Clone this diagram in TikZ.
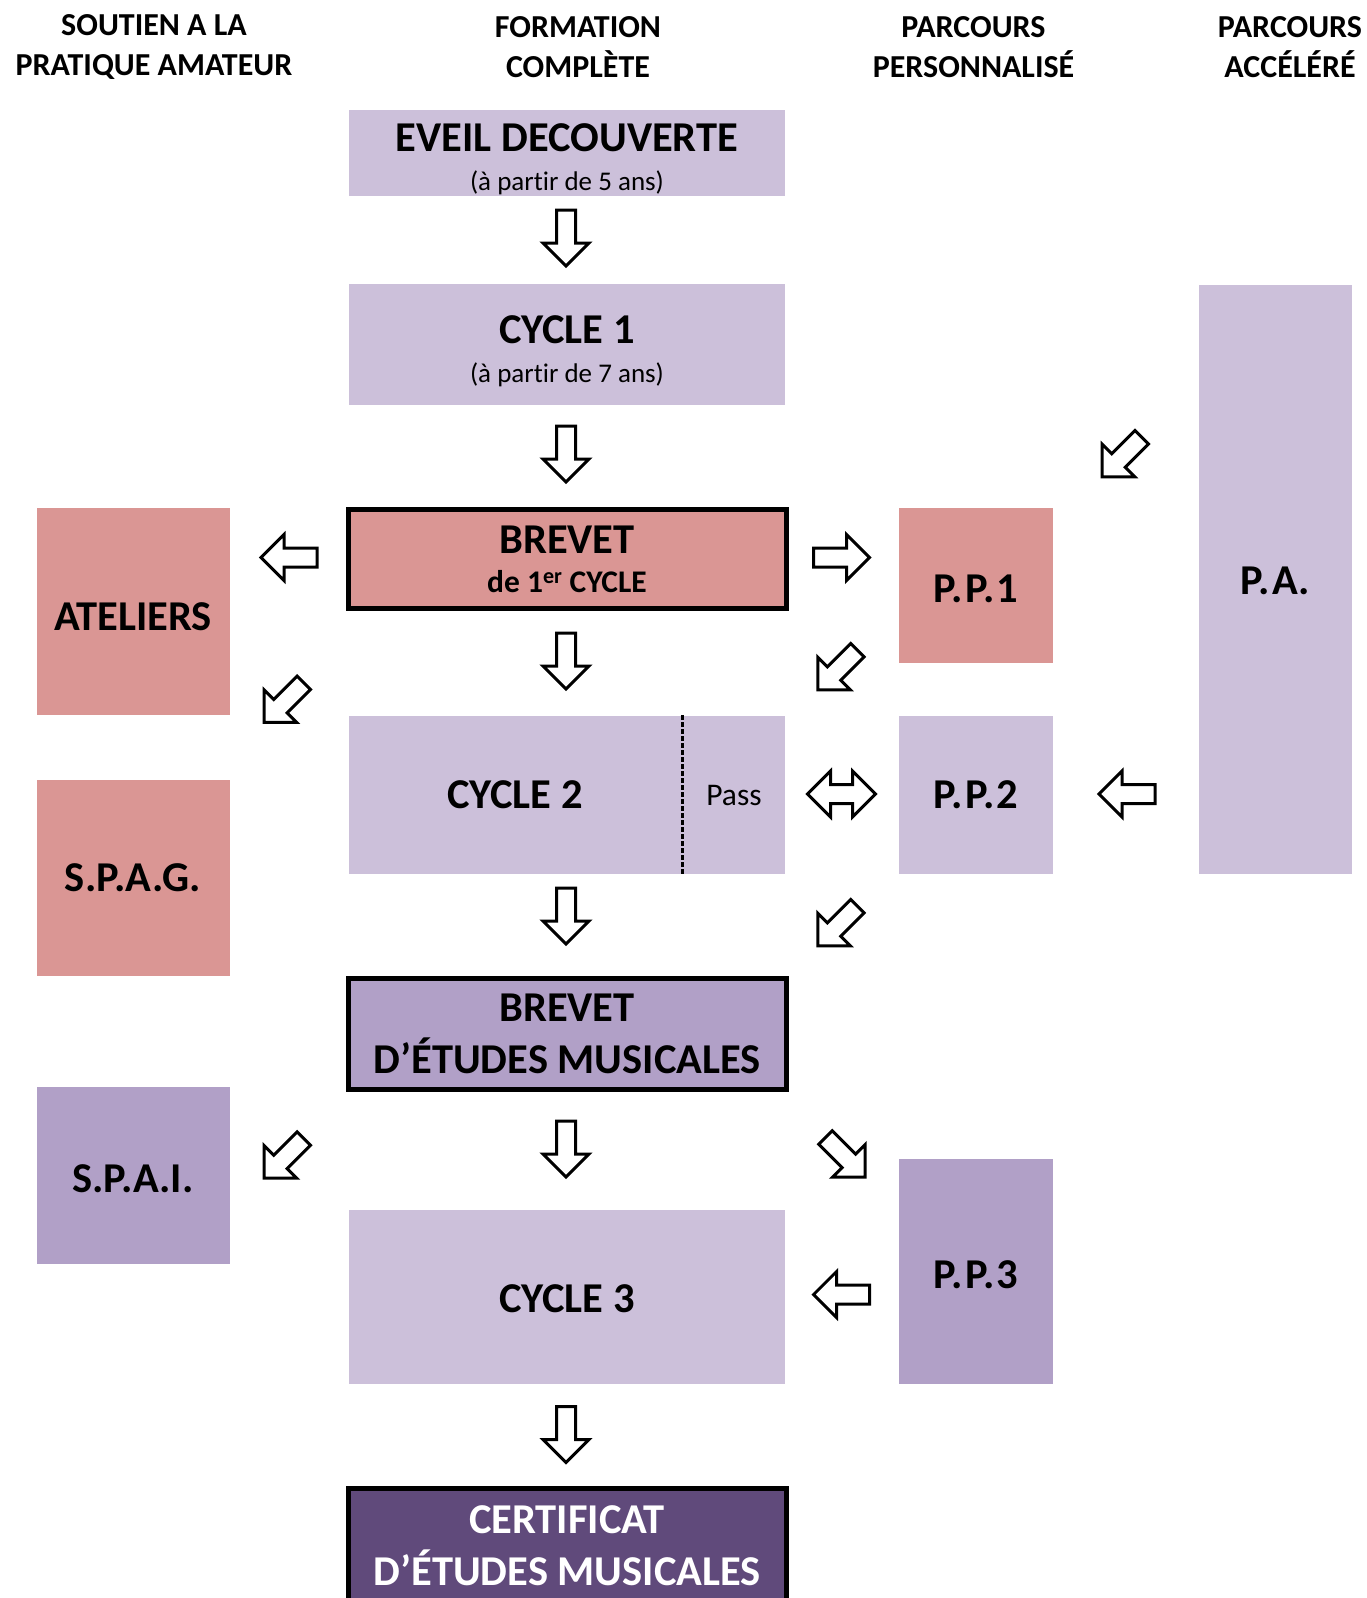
\documentclass[tikz,border=0pt]{standalone}
\usepackage{fontspec}
\setmainfont{Carlito}[Ligatures=NoCommon]
\usetikzlibrary{calc}
\usetikzlibrary{positioning}
\definecolor{lilac}{RGB}{204,192,218}
\definecolor{mauve}{RGB}{177,160,199}
\definecolor{rose}{RGB}{218,150,148}
\definecolor{plum}{RGB}{96,74,123}
\tikzset{box/.style={rectangle,inner sep=0pt,align=center,font=\bfseries\fontsize{42.5}{48}\selectfont},
lightbox/.style={box,fill=lilac},midbox/.style={box,fill=mauve},rosebox/.style={box,fill=rose},
framed/.style={draw=black,line width=5pt},
header/.style={align=center,inner sep=0pt,font=\bfseries\fontsize{32}{39.8}\selectfont},
hollow/.style={draw=black,fill=white,line width=3pt,line join=miter}}
\newcommand{\subline}{\mdseries\fontsize{27}{30}\selectfont}

\begin{document}
\begin{tikzpicture}[x=1pt,y=-1pt]
\useasboundingbox (0,0) rectangle (1366,1598);
\clip (0,0) rectangle (1366,1598);

\node[header] (h1) at (154,47) {SOUTIEN A LA\\PRATIQUE AMATEUR};
\node[header] (h2) at (578,47) {FORMATION\\COMPLÈTE};
\node[header] (h3) at (973.5,47) {PARCOURS\\PERSONNALISÉ};
\node[header] (h4) at (1290,47) {PARCOURS\\ACCÉLÉRÉ};

% formation complete
\node[lightbox,minimum width=436,minimum height=86] (eveil) at (567,153) {\rule{0pt}{41pt}EVEIL DECOUVERTE\\[-9pt]{\subline (à partir de 5 ans)}};
\node[lightbox,minimum width=436,minimum height=121] (cycle1) at (567,344.5) {\rule{0pt}{41pt}CYCLE 1\\[-9pt]{\subline (à partir de 7 ans)}};
\node[rosebox,framed,minimum width=438,minimum height=99] (brevet1) at (567,559) {BREVET\\[-9pt]{\fontsize{31.5}{36}\selectfont de 1\textsuperscript{er} CYCLE}};
\node[lightbox,minimum width=436,minimum height=158] (cycle2) at (567,794.6) {};
\node[box] (cycle2txt) at (515,795) {CYCLE 2};
\node[box,font=\fontsize{31.5}{36}\selectfont] (pass) at (734,795) {Pass};
\draw[line width=3pt,dash pattern=on 5pt off 2pt] ([xshift=333.4pt]cycle2.north west) -- ([xshift=333.4pt]cycle2.south west);
\node[midbox,framed,minimum width=438,minimum height=111] (bem) at (567,1034) {BREVET\\[4pt]D’ÉTUDES MUSICALES};
\node[lightbox,minimum width=436,minimum height=174,text height=31pt] (cycle3) at (567,1297) {CYCLE 3};
\node[box,framed,fill=plum,text=white,minimum width=438,minimum height=116] (cem) at (567,1546) {CERTIFICAT\\[4pt]D’ÉTUDES MUSICALES};

% pratique amateur
\node[rosebox,minimum width=193,minimum height=207,text height=39pt] (ateliers) at (133,611) {ATELIERS};
\node[rosebox,minimum width=193,minimum height=196] (spag) at (133,877.7) {S.P.A.G.};
\node[midbox,minimum width=193,minimum height=177,text height=35pt] (spai) at (133,1175.4) {S.P.A.I.};

% parcours
\node[rosebox,minimum width=154,minimum height=155,text height=35pt] (pp1) at (976,585) {P.\kern2.5pt P.\kern2.5pt 1};
\node[lightbox,minimum width=154,minimum height=158] (pp2) at (976,794.6) {P.\kern2.5pt P.\kern2.5pt 2};
\node[midbox,minimum width=154,minimum height=225,text height=33pt] (pp3) at (976,1271.7) {P.\kern2.5pt P.\kern2.5pt 3};
\node[lightbox,minimum width=153,minimum height=589,text height=31pt] (pa) at (1275,579) {P.\kern2.5pt A.};

% arrows
\foreach \x/\y/\a in {566/238/-90, 566/454/-90, 566/661/-90, 566/916/-90, 566/1149/-90, 566/1434.5/-90,
  289/557.6/180, 841.5/557.6/0, 1127/794/180, 841.5/1294.6/180,
  1122/457/225, 837.6/670/225, 284/702.6/225, 837.6/926/225, 284/1158.3/225, 845.3/1157.3/-45}
  \draw[hollow,shift={(\x,\y)},rotate=\a] (-28,-9.5) -- (5,-9.5) -- (5,-23) -- (28,0) -- (5,23) -- (5,9.5) -- (-28,9.5) -- cycle;
\draw[hollow,shift={(841.5,794)}] (-34,0) -- (-11,-23) -- (-11,-9.5) -- (11,-9.5) -- (11,-23) -- (34,0) -- (11,23) -- (11,9.5) -- (-11,9.5) -- (-11,23) -- cycle;

\end{tikzpicture}
\end{document}
